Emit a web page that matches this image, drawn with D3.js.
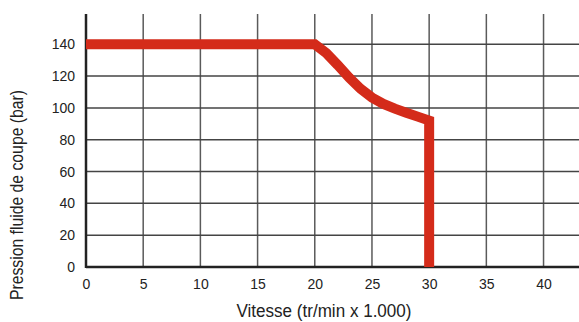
<!DOCTYPE html>
<html>
<head>
<meta charset="utf-8">
<script src="https://cdn.jsdelivr.net/npm/d3@7"></script>
<style>
  body { margin: 0; background: #fff; }
  svg { display: block; }
  .tick text { font-family: "Liberation Sans", Arial, sans-serif; font-size: 14px; fill: #222; }
  .label { font-family: "Liberation Sans", Arial, sans-serif; font-size: 18px; fill: #222; }
</style>
</head>
<body>
<svg class="chart" width="579" height="322"></svg>
<script>
"use strict";

var speeds = [0, 20, 21, 22, 23, 24, 25, 26, 27, 28, 29, 30, 30];
var pressures = [140, 140, 134.5, 127, 119, 112, 106.5, 102.5, 99.5, 97, 94.5, 92, 0];
var xTicks = [0, 5, 10, 15, 20, 25, 30, 35, 40];
var yTicks = [0, 20, 40, 60, 80, 100, 120, 140];

var svg = d3.select("svg.chart");
var margin = { top: 14, right: 0, bottom: 55, left: 86 };
var width = +svg.attr("width") - margin.left - margin.right;
var height = +svg.attr("height") - margin.top - margin.bottom;
var g = svg.append("g").attr("transform", "translate(" + margin.left + ", " + margin.top + ")");

var x = d3.scaleLinear().domain([0, 43.1]).range([0, width]);
var y = d3.scaleLinear().domain([0, 159]).range([height, 0]);

// grid
g.append("g").selectAll("line").data(xTicks.slice(1)).enter().append("line")
    .attr("x1", function (d) { return x(d); }).attr("x2", function (d) { return x(d); })
    .attr("y1", 0).attr("y2", height)
    .attr("stroke", "#5a5a5a").attr("stroke-width", 1.5);
g.append("g").selectAll("line").data(yTicks.slice(1)).enter().append("line")
    .attr("x1", 0).attr("x2", width)
    .attr("y1", function (d) { return y(d); }).attr("y2", function (d) { return y(d); })
    .attr("stroke", "#444").attr("stroke-width", 1.5);

// axes
var xAxis = g.append("g").attr("transform", "translate(0, " + height + ")")
    .call(d3.axisBottom(x).tickValues(xTicks).tickSize(0).tickPadding(12));
xAxis.select(".domain").remove();
var yAxis = g.append("g")
    .call(d3.axisLeft(y).tickValues(yTicks).tickSize(0).tickPadding(11));
yAxis.select(".domain").remove();

g.append("line").attr("x1", 0).attr("x2", 0).attr("y1", 0).attr("y2", height + 1)
    .attr("stroke", "#222").attr("stroke-width", 2.5);
g.append("line").attr("x1", 0).attr("x2", width).attr("y1", height).attr("y2", height)
    .attr("stroke", "#222").attr("stroke-width", 2.5);

// curve
var pts = speeds.map(function (s, i) { return [s, pressures[i]]; });
var line = d3.line().x(function (d) { return x(d[0]); }).y(function (d) { return y(d[1]); });
g.append("path").datum(pts).attr("d", line)
    .attr("fill", "none").attr("stroke", "#d42b1a").attr("stroke-width", 10)
    .attr("stroke-linejoin", "miter").attr("stroke-linecap", "butt");

// labels
svg.append("text").attr("class", "label").attr("text-anchor", "middle")
    .attr("x", 324).attr("y", 317)
    .attr("textLength", 175).attr("lengthAdjust", "spacingAndGlyphs")
    .text("Vitesse (tr/min x 1.000)");
svg.append("text").attr("class", "label").attr("text-anchor", "middle")
    .attr("transform", "translate(23, 195) rotate(-90)")
    .attr("textLength", 210).attr("lengthAdjust", "spacingAndGlyphs")
    .text("Pression fluide de coupe (bar)");
</script>
</body>
</html>
